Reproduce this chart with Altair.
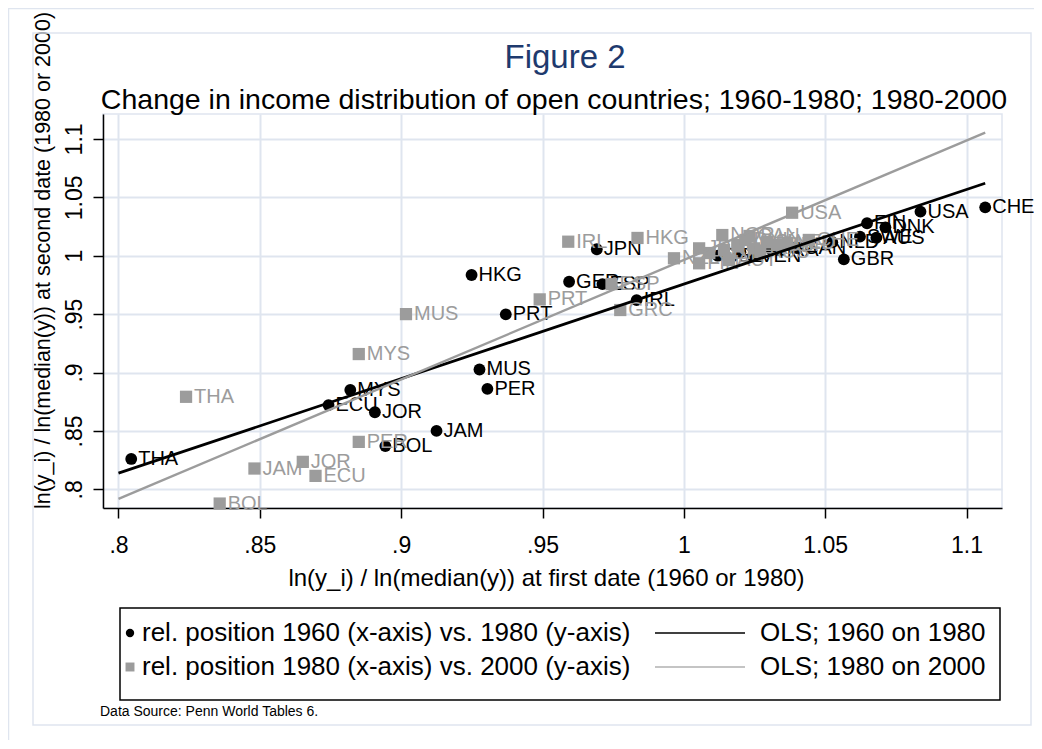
import altair as alt
import pandas as pd

FONT = "Liberation Sans"
GRAY = "#9c9c9c"
GRID = "#dfe5ef"
NAVY = "#1e3a6e"

# ---------------- data ----------------
# 1960 (x) vs 1980 (y): black circles
names_60 = ["THA", "ECU", "MYS", "JOR", "BOL", "JAM", "MUS", "PER", "PRT", "HKG",
            "GER", "ESP", "JPN", "IRL", "BEL", "AUT", "VEN", "FRA", "CAN", "NLD",
            "GBR", "SWE", "AUS", "FIN", "DNK", "USA", "CHE"]
x_60 = [0.8045, 0.8743, 0.8820, 0.8907, 0.8944, 0.9125, 0.9277, 0.9305, 0.9370, 0.9249,
        0.9594, 0.9712, 0.9692, 0.9833, 1.0120, 1.0200, 1.0245, 1.0310, 1.0400, 1.0525,
        1.0566, 1.0623, 1.0681, 1.0648, 1.0713, 1.0837, 1.1066]
y_60 = [0.8260, 0.8721, 0.8850, 0.8660, 0.8370, 0.8500, 0.9026, 0.8860, 0.9498, 0.9835,
        0.9777, 0.9757, 1.0055, 0.9620, 1.0000, 1.0030, 0.9995, 1.0050, 1.0066, 1.0115,
        0.9969, 1.0163, 1.0154, 1.0278, 1.0243, 1.0377, 1.0414]

# 1980 (x) vs 2000 (y): gray squares
names_80 = ["THA", "BOL", "JAM", "JOR", "ECU", "PER", "MYS", "MUS", "PRT", "IRL",
            "GRC", "ESP", "HKG", "NZL", "JPN", "FIN", "GER", "NOR", "ITA", "AUT",
            "BEL", "DNK", "FRA", "CAN", "SWE", "GBR", "AUS", "NLD", "USA", "CHE"]
x_80 = [0.8239, 0.8358, 0.8481, 0.8652, 0.8697, 0.8850, 0.8850, 0.9017, 0.9490, 0.9591,
        0.9775, 0.9744, 0.9836, 0.9965, 1.0054, 1.0054, 1.0090, 1.0136, 1.0142, 1.0160,
        1.0189, 1.0218, 1.0248, 1.0232, 1.0295, 1.0330, 1.0270, 1.0366, 1.0383, 1.0442]
y_80 = [0.8792, 0.7878, 0.8178, 0.8235, 0.8115, 0.8406, 0.9158, 0.9500, 0.9626, 1.0120,
        0.9535, 0.9757, 1.0152, 0.9978, 1.0063, 0.9935, 1.0023, 1.0177, 1.0049, 0.9963,
        1.0092, 1.0135, 1.0063, 1.0169, 1.0120, 1.0092, 1.0032, 1.0109, 1.0368, 1.0135]

# OLS fitted lines (end points)
ols_names = ["OLS; 1960 on 1980", "OLS; 1980 on 2000"]
ols_x0 = [0.8000, 0.8000]
ols_y0 = [0.8138, 0.7918]
ols_x1 = [1.1066, 1.1066]
ols_y1 = [1.0620, 1.1054]

x_ticks = [0.8, 0.85, 0.9, 0.95, 1.0, 1.05, 1.1]
y_ticks = [0.8, 0.85, 0.9, 0.95, 1.0, 1.05, 1.1]

legend_left = ["rel. position 1960 (x-axis) vs. 1980 (y-axis)",
               "rel. position 1980 (x-axis) vs. 2000 (y-axis)"]
title_text = "Figure 2"
subtitle_text = "Change in income distribution of open countries; 1960-1980; 1980-2000"
x_title = "ln(y_i) / ln(median(y)) at first date (1960 or 1980)"
y_title = "ln(y_i) / ln(median(y)) at second date (1980 or 2000)"
source_text = "Data Source: Penn World Tables 6."

# ---------------- tables ----------------
d60 = pd.DataFrame({"name": names_60, "x": x_60, "y": y_60})
d80 = pd.DataFrame({"name": names_80, "x": x_80, "y": y_80})
ols = pd.DataFrame({
    "series": [ols_names[0], ols_names[0], ols_names[1], ols_names[1]],
    "x": [ols_x0[0], ols_x1[0], ols_x0[1], ols_x1[1]],
    "y": [ols_y0[0], ols_y1[0], ols_y0[1], ols_y1[1]],
})

W, H = 899, 394
xs = alt.Scale(domain=[0.79452, 1.11254], nice=False, zero=False)
ys = alt.Scale(domain=[0.78400, 1.12132], nice=False, zero=False)
lab = "datum.value < 1 ? slice(format(datum.value, '~g'), 1) : format(datum.value, '~g')"

common_axis = dict(
    tickSize=10, tickWidth=1.5, tickColor="black", domainColor="black", domainWidth=1.5,
    labelFont=FONT, labelFontSize=23, labelColor="black", labelExpr=lab, labelOverlap=False,
    titleFont=FONT, titleFontWeight="normal", titleColor="black",
    grid=True, gridColor=GRID, gridWidth=2,
)
x_axis = alt.Axis(values=x_ticks, title=x_title, labelPadding=16, labelFlush=False,
                  titleFontSize=24, titleX=443, titleY=70, titleBaseline="middle",
                  titleAlign="center", **common_axis)
y_axis = alt.Axis(values=y_ticks, title=y_title, labelAngle=270, labelAlign="center",
                  labelBaseline="bottom", labelPadding=7, labelFlush=False,
                  titleFontSize=21.5, titleAngle=270, titleX=-60, titleY=146,
                  titleBaseline="middle", titleAlign="center", **common_axis)

X = alt.X("x:Q", scale=xs, axis=x_axis)
Y = alt.Y("y:Q", scale=ys, axis=y_axis)
Xn = alt.X("x:Q", scale=xs)
Yn = alt.Y("y:Q", scale=ys)

pts60 = alt.Chart(d60).mark_point(shape="circle", filled=True, size=140, color="black",
                                  opacity=1).encode(x=X, y=Y)
lab60 = alt.Chart(d60).mark_text(align="left", baseline="middle", dx=7, font=FONT,
                                 fontSize=20, color="black").encode(x=Xn, y=Yn, text="name:N")
pts80 = alt.Chart(d80).mark_point(shape="square", filled=True, size=150, color=GRAY,
                                  opacity=1).encode(x=Xn, y=Yn)
lab80 = alt.Chart(d80).mark_text(align="left", baseline="middle", dx=8, font=FONT,
                                 fontSize=20, color=GRAY).encode(x=Xn, y=Yn, text="name:N")
line60 = alt.Chart(ols[ols.series == ols_names[0]]).mark_line(color="black", strokeWidth=2.8).encode(x=Xn, y=Yn)
line80 = alt.Chart(ols[ols.series == ols_names[1]]).mark_line(color=GRAY, strokeWidth=2.4).encode(x=Xn, y=Yn)

one = pd.DataFrame({"k": [0]})

def txt(s, x, y, size, color="black", align="left"):
    return alt.Chart(one).mark_text(text=s, align=align, baseline="middle", font=FONT,
                                    fontSize=size, color=color).encode(
        x=alt.value(x), y=alt.value(y))

def frame(x, x2, y, y2, color, width):
    return alt.Chart(one).mark_rect(filled=False, stroke=color, strokeWidth=width).encode(
        x=alt.value(x), x2=alt.value(x2), y=alt.value(y), y2=alt.value(y2))

def seg(x, x2, y, color, width):
    return alt.Chart(one).mark_rule(color=color, strokeWidth=width).encode(
        x=alt.value(x), x2=alt.value(x2), y=alt.value(y))

outer = frame(-94.5, 937, -105.5, 640, GRID, 1.5)
inner = frame(-70, 928, -81, 611, GRID, 1.5)

title = txt(title_text, 462, -56, 33, NAVY, "center")
subtitle = txt(subtitle_text, 451, -14, 28.5, "black", "center")

leg_box = frame(17, 897, 494, 586, "black", 1.5)
leg_c = alt.Chart(one).mark_point(shape="circle", filled=True, size=70, color="black", opacity=1).encode(
    x=alt.value(27), y=alt.value(519))
leg_s = alt.Chart(one).mark_point(shape="square", filled=True, size=80, color=GRAY, opacity=1).encode(
    x=alt.value(27), y=alt.value(553))
leg_t1 = txt(legend_left[0], 39, 519, 26)
leg_t2 = txt(legend_left[1], 39, 553, 26)
leg_l1 = seg(552, 642, 519, "black", 1.3)
leg_l2 = seg(552, 642, 553, "#b0b0b0", 1.3)
leg_t3 = txt(ols_names[0], 657, 519, 26)
leg_t4 = txt(ols_names[1], 657, 553, 26)
source = txt(source_text, -3, 598, 14)

chart = alt.layer(
    pts60, outer, inner, lab60, pts80, lab80, line60, line80,
    title, subtitle, leg_box, leg_c, leg_s, leg_t1, leg_t2, leg_l1, leg_l2, leg_t3, leg_t4, source,
).properties(
    width=W, height=H,
    autosize=alt.AutoSizeParams(type="none"),
    padding={"left": 95, "top": 106, "right": 32, "bottom": 232},
    background="white",
).configure_view(stroke=GRID, strokeWidth=1.5)

chart.save("out.html", embed_options={"renderer": "svg", "actions": False})
